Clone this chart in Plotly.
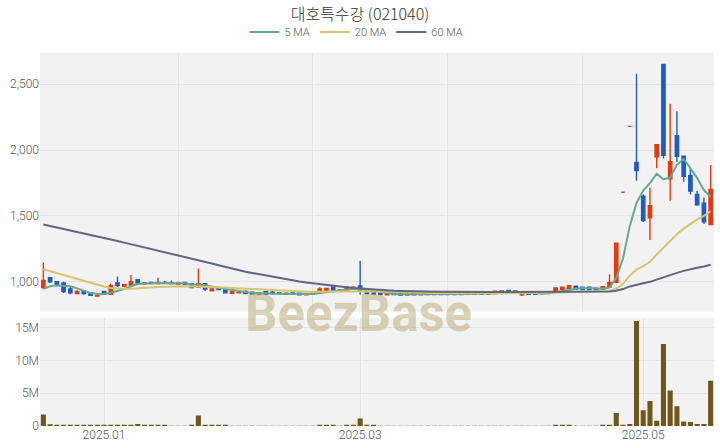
import plotly.graph_objects as go
from plotly.subplots import make_subplots
import pandas as pd

# ---- categories: KRX trading days ----
holidays = ['2024-12-25', '2024-12-31', '2025-01-01', '2025-01-27', '2025-01-28',
            '2025-01-29', '2025-01-30', '2025-03-03', '2025-05-01', '2025-05-05', '2025-05-06']
dates = pd.bdate_range('2024-12-17', '2025-05-20', freq='C', holidays=holidays).strftime('%Y-%m-%d').tolist()

# ---- OHLC (KRW) ----
opens = [955, 1030, 1000, 990, 945, 910, 930, 915, 890, 925,
         905, 990, 965, 975, 1015, 982, 995, 985, 995, 993,
         982, 995, 985, 958, 985, 930, 945, 955, 912, 915,
         925, 920, 903, 925, 920, 915, 905, 915, 912, 900,
         905, 918, 930, 960, 938, 935, 950, 968, 930, 918,
         915, 900, 915, 910, 898, 912, 900, 914, 902, 915,
         903, 915, 903, 915, 904, 916, 905, 910, 930, 933,
         930, 900, 922, 920, 908, 915, 928, 940, 945, 965,
         958, 958, 950, 945, 960, 995, 1680, 2180, 1905, 1650,
         1485, 1948, 2650, 1782, 2109, 1953, 1807, 1663, 1597, 1435]
highs = [1145, 1035, 1005, 1000, 960, 935, 935, 918, 905, 930,
         985, 1040, 985, 1050, 1018, 995, 998, 1030, 1005, 1010,
         1000, 1000, 988, 1100, 990, 950, 960, 960, 930, 925,
         935, 925, 915, 930, 940, 918, 915, 918, 915, 912,
         912, 958, 950, 965, 940, 962, 965, 1160, 932, 920,
         918, 915, 918, 912, 914, 915, 915, 916, 918, 918,
         918, 917, 918, 918, 920, 918, 922, 932, 933, 936,
         934, 920, 925, 922, 922, 920, 955, 960, 972, 968,
         962, 960, 952, 968, 1057, 1292, 1680, 2180, 2580, 1663,
         1713, 2040, 2650, 2352, 2295, 1953, 1862, 1688, 1639, 1886]
lows = [945, 990, 965, 915, 905, 905, 900, 893, 885, 900,
        900, 960, 960, 970, 985, 978, 982, 982, 982, 980,
        978, 975, 955, 955, 930, 925, 935, 910, 908, 910,
        905, 900, 900, 900, 905, 905, 900, 900, 895, 898,
        900, 915, 925, 928, 925, 930, 945, 900, 905, 900,
        898, 898, 898, 895, 895, 897, 898, 900, 900, 900,
        900, 900, 900, 900, 902, 900, 902, 905, 905, 915,
        910, 892, 902, 902, 905, 912, 925, 935, 940, 942,
        938, 938, 935, 940, 955, 990, 1680, 2180, 1767, 1453,
        1317, 1862, 1936, 1614, 1910, 1758, 1663, 1577, 1441, 1428]
closes = [1010, 1000, 980, 925, 915, 925, 910, 897, 898, 905,
          970, 970, 980, 1000, 990, 992, 985, 995, 988, 985,
          992, 980, 955, 985, 945, 945, 940, 915, 925, 920,
          910, 905, 912, 905, 910, 908, 912, 905, 900, 908,
          910, 945, 948, 935, 930, 960, 958, 932, 910, 905,
          902, 912, 902, 898, 910, 900, 912, 902, 914, 903,
          915, 903, 914, 904, 915, 904, 918, 928, 915, 920,
          912, 918, 905, 905, 920, 918, 953, 958, 970, 945,
          940, 940, 938, 962, 995, 1292, 1680, 2180, 1845, 1465,
          1577, 2040, 1961, 1911, 1953, 1800, 1688, 1584, 1455, 1700]

# ---- volume (shares) ----
volumes = [1.75e6, 0.25e6, 0.15e6, 0.1e6, 0.1e6, 0.08e6, 0.08e6, 0.06e6, 0.06e6, 0.05e6,
           0.12e6, 0.1e6, 0.06e6, 0.08e6, 0.3e6, 0.06e6, 0.05e6, 0.06e6, 0.05e6, 0.04e6,
           0.04e6, 0.04e6, 0.05e6, 1.6e6, 0.12e6, 0.06e6, 0.05e6, 0.06e6, 0.04e6, 0.03e6,
           0.04e6, 0.03e6, 0.03e6, 0.03e6, 0.03e6, 0.03e6, 0.03e6, 0.03e6, 0.03e6, 0.03e6,
           0.03e6, 0.05e6, 0.05e6, 0.05e6, 0.04e6, 0.05e6, 0.05e6, 1.15e6, 0.1e6, 0.05e6,
           0.04e6, 0.03e6, 0.03e6, 0.03e6, 0.03e6, 0.03e6, 0.03e6, 0.03e6, 0.03e6, 0.03e6,
           0.03e6, 0.03e6, 0.03e6, 0.03e6, 0.03e6, 0.03e6, 0.03e6, 0.04e6, 0.04e6, 0.03e6,
           0.03e6, 0.04e6, 0.03e6, 0.03e6, 0.03e6, 0.03e6, 0.06e6, 0.05e6, 0.06e6, 0.04e6,
           0.04e6, 0.04e6, 0.03e6, 0.05e6, 0.2e6, 2.0e6, 0.1e6, 0.3e6, 16.0e6, 2.4e6,
           3.8e6, 0.8e6, 12.5e6, 5.4e6, 3.0e6, 0.7e6, 0.6e6, 0.3e6, 0.3e6, 6.9e6]

# ---- moving averages as drawn ----
ma5 = [945, 965, 972, 970, 966, 949, 931, 914, 909, 907,
       916, 928, 945, 965, 982, 986, 989, 992, 990, 989,
       991, 988, 979, 979, 971, 962, 954, 946, 934, 929,
       922, 915, 914, 910, 908, 908, 909, 908, 907, 907,
       907, 914, 922, 929, 936, 944, 946, 943, 938, 931,
       922, 912, 906, 904, 905, 904, 904, 904, 906, 906,
       908, 907, 907, 907, 909, 908, 910, 912, 914, 916,
       918, 916, 913, 910, 910, 910, 919, 928, 940, 946,
       952, 951, 948, 946, 956, 1028, 1176, 1422, 1598, 1692,
       1749, 1821, 1778, 1791, 1888, 1933, 1863, 1787, 1696, 1645]
ma20 = [1095, 1080, 1065, 1050, 1035, 1020, 1005, 990, 976, 963,
        952, 948, 946, 946, 948, 952, 956, 959, 962, 964,
        965, 965, 964, 964, 962, 960, 958, 955, 952, 949,
        946, 943, 940, 937, 934, 931, 928, 926, 925, 924,
        924, 925, 926, 927, 928, 929, 930, 930, 929, 928,
        926, 924, 922, 920, 918, 917, 916, 915, 914, 914,
        913, 913, 912, 912, 912, 912, 912, 912, 912, 912,
        912, 912, 912, 912, 912, 913, 915, 917, 919, 921,
        922, 923, 924, 925, 929, 946, 984, 1046, 1092, 1118,
        1151, 1207, 1259, 1309, 1360, 1403, 1440, 1473, 1500, 1535]
ma60 = [1435, 1424, 1413, 1402, 1391, 1380, 1368, 1357, 1345, 1333,
        1321, 1309, 1297, 1285, 1273, 1261, 1249, 1237, 1225, 1214,
        1203, 1190, 1177, 1164, 1151, 1138, 1125, 1112, 1099, 1087,
        1076, 1066, 1056, 1046, 1036, 1027, 1018, 1009, 1001, 994,
        987, 980, 974, 968, 962, 957, 952, 948, 944, 940,
        937, 934, 932, 930, 928, 927, 926, 925, 924, 923,
        923, 922, 922, 922, 922, 921, 921, 921, 921, 921,
        921, 921, 921, 921, 921, 921, 922, 922, 922, 922,
        922, 922, 922, 923, 925, 931, 944, 964, 979, 988,
        999, 1017, 1034, 1050, 1067, 1082, 1095, 1106, 1115, 1128]

month_ticks = [d for i, d in enumerate(dates) if i > 0 and d[5:7] != dates[i - 1][5:7] and int(d[5:7]) % 2 == 1]
month_text = [d[:4] + '.' + d[5:7] for d in month_ticks]
grid_ticks = [dates[i] for i in (20, 40, 60, 80)]

fig = make_subplots(rows=2, cols=1, shared_xaxes=False, vertical_spacing=0.0)

fig.add_trace(go.Candlestick(
    x=dates, open=opens, high=highs, low=lows, close=closes,
    increasing=dict(line=dict(color='#e8380e', width=1.4), fillcolor='#e8380e'),
    decreasing=dict(line=dict(color='#1f5bc6', width=1.4), fillcolor='#1f5bc6'),
    whiskerwidth=0, showlegend=False, name='price'), row=1, col=1)

fig.add_trace(go.Scatter(x=dates, y=ma5, mode='lines', name='5 MA',
                         line=dict(color='#66a88e', width=2)), row=1, col=1)
fig.add_trace(go.Scatter(x=dates, y=ma20, mode='lines', name='20 MA',
                         line=dict(color='#d9c46e', width=2)), row=1, col=1)
fig.add_trace(go.Scatter(x=dates, y=ma60, mode='lines', name='60 MA',
                         line=dict(color='#5d6685', width=2)), row=1, col=1)

fig.add_trace(go.Bar(x=dates, y=volumes, marker=dict(color='#6e561c', line=dict(width=0)),
                     showlegend=False, name='volume'), row=2, col=1)

axis_font = dict(family='Roboto, Noto Sans, sans-serif', size=12, color='#555555', weight=300)
grid = '#e4e4e4'

fig.update_layout(
    width=720, height=448,
    margin=dict(l=40, r=6, t=45, b=21),
    paper_bgcolor='white', plot_bgcolor='#f2f2f2',
    title=dict(text='대호특수강 (021040)', x=0.5, xanchor='center', y=0.968, yanchor='middle',
               font=dict(family='Noto Sans CJK KR, sans-serif', size=16, color='#333333', weight=300)),
    legend=dict(orientation='h', xref='container', yref='container', x=0.495, xanchor='center',
                y=1 - 32 / 448, yanchor='middle',
                font=dict(family='Roboto, Noto Sans, sans-serif', size=11, color='#555555', weight=300),
                bgcolor='rgba(0,0,0,0)', itemwidth=30),
    bargap=0.25,
    showlegend=True,
    xaxis=dict(type='category', domain=[0, 1], anchor='y', range=[-0.5, len(dates) - 0.5],
               rangeslider=dict(visible=False), tickmode='array', tickvals=grid_ticks,
               showticklabels=False, showgrid=True, gridcolor=grid, zeroline=False,
               ticks=''),
    yaxis=dict(domain=[0.306, 1.0], range=[772, 2741], tickmode='array',
               tickvals=[1000, 1500, 2000, 2500], ticktext=['1,000', '1,500', '2,000', '2,500'],
               showgrid=True, gridcolor=grid, zeroline=False, tickfont=axis_font, ticks=''),
    xaxis2=dict(type='category', domain=[0, 1], anchor='y2', range=[-0.5, len(dates) - 0.5],
                tickmode='array', tickvals=month_ticks, ticktext=month_text,
                showgrid=True, gridcolor=grid, tickfont=axis_font, ticks=''),
    yaxis2=dict(domain=[0.0, 0.29], range=[0, 16.5e6], tickmode='array',
                tickvals=[0, 5e6, 10e6, 15e6], ticktext=['0', '5M', '10M', '15M'],
                showgrid=True, gridcolor=grid, zeroline=False, tickfont=axis_font, ticks=''),
)

fig.add_annotation(text='<b>BeezBase</b>', xref='paper', yref='paper', x=0.472, y=0.30,
                   xanchor='center', yanchor='middle', showarrow=False,
                   font=dict(family='Roboto, Noto Sans, sans-serif', size=51, color='rgba(190,175,125,0.55)'))

fig.write_html('out.html', config={'displayModeBar': False},
               post_script="document.body.style.margin='0px';document.body.style.overflow='hidden';")
